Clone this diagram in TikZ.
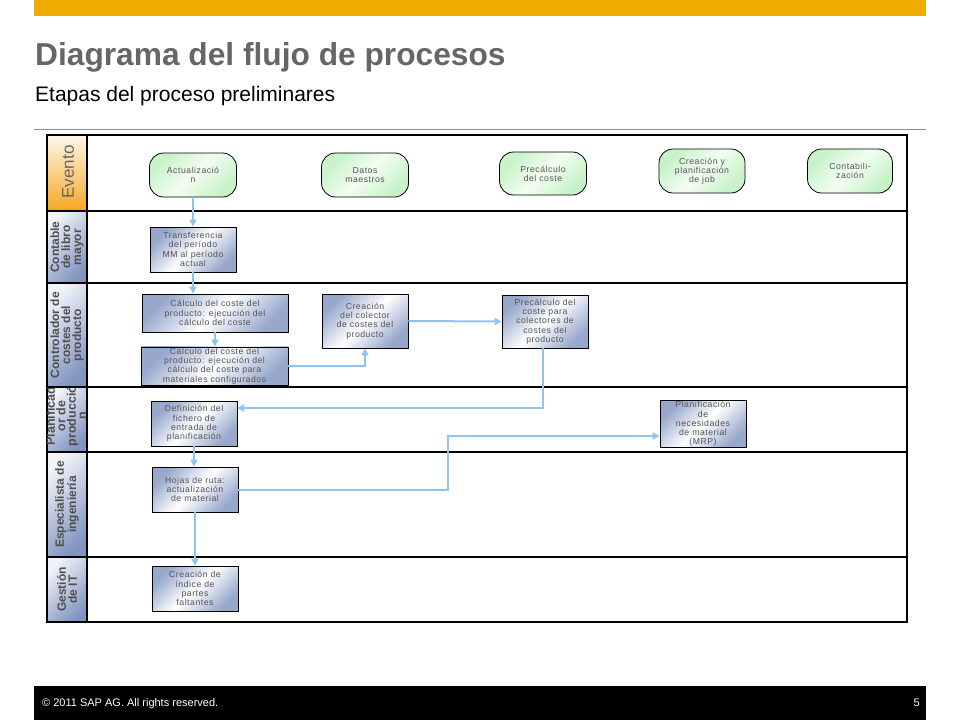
\documentclass[tikz,border=0pt]{standalone}
\usepackage{fontspec}
\setmainfont{Liberation Sans}
\newfontfamily\nodefont[LetterSpace=6]{Liberation Sans}
\usetikzlibrary{arrows.meta,calc}
\definecolor{sapgold}{HTML}{F0AB00}
\definecolor{titlegray}{HTML}{666666}
\definecolor{rulegray}{HTML}{8C8C8C}
\definecolor{txtgray}{HTML}{555555}
\definecolor{labgray}{HTML}{4F4F4F}
\definecolor{flowblue}{HTML}{8EC4F2}
\definecolor{boxdark}{HTML}{97A8CC}
\definecolor{lanedark}{HTML}{8295C0}
\definecolor{lanelight}{HTML}{F0F3F8}
\definecolor{pillgreen}{HTML}{C8F2C8}
\definecolor{pilllight}{HTML}{F2FDF2}
\definecolor{evtop}{HTML}{FFF8EA}
\definecolor{evmid}{HTML}{FBD27C}
\definecolor{evbot}{HTML}{F5A623}
\begin{document}
\begin{tikzpicture}[x=1pt,y=-1pt,
  pill/.style={draw=black, line width=0.8pt, rounded corners=14pt,
    top color=pillgreen, bottom color=pillgreen, middle color=pilllight, shading angle=45,
    font=\nodefont\fontsize{8.7}{9}\selectfont, text=txtgray, align=center, inner sep=1pt},
  proc/.style={draw=black, line width=0.8pt,
    top color=boxdark, bottom color=boxdark, middle color=white, shading angle=45,
    font=\nodefont\fontsize{8.7}{9.3}\selectfont, text=txtgray, align=center, inner sep=1pt},
  lane/.style={draw=black, line width=2.6pt},
  lanelab/.style={draw=black, line width=2.6pt, top color=lanelight, bottom color=lanedark, shading angle=45},
  lanetext/.style={rotate=90, font=\bfseries\fontsize{12}{11}\selectfont, text=labgray, align=center, inner sep=0pt},
  flow/.style={draw=flowblue, line width=2pt, -{Triangle[length=7pt,width=7pt]}}
]
\useasboundingbox (0,0) rectangle (960,720);
% header
\fill[sapgold] (34,0) rectangle (926,16);
\node[anchor=base west, font=\bfseries\fontsize{31.7}{32}\selectfont, text=titlegray, inner sep=0pt] (title) at (35,65) {Diagrama del flujo de procesos};
\node[anchor=base west, font=\fontsize{21}{21}\selectfont, inner sep=0pt] (sub) at (35,101) {Etapas del proceso preliminares};
\draw[rulegray, line width=1pt] (34,129) -- (926,129);
% lanes
\foreach \ya/\yb in {135/211, 211/283, 283/387, 387/452, 452/557, 557/622} {
  \draw[lane] (47,\ya) rectangle (907,\yb);
}
\draw[lane, top color=evtop, middle color=evmid, bottom color=evbot] (47,135) rectangle (87,211);
\foreach \ya/\yb in {211/283, 283/387, 387/452, 452/557, 557/622} {
  \draw[lanelab] (47,\ya) rectangle (87,\yb);
}
\node[rotate=90, font=\fontsize{17}{17}\selectfont, text=titlegray, inner sep=0pt] (lev) at (68,172) {Evento};
\node[lanetext] (lcon) at (67,247) {Contable\\de libro\\mayor};
\node[lanetext] (lctr) at (67,335) {Controlador de\\costes del\\producto};
\begin{scope}
\clip (47,388) rectangle (87,451);
\node[lanetext, font=\bfseries\fontsize{12.5}{10.5}\selectfont] (lpla) at (66,416) {Planificad\\or de\\producció\\n};
\end{scope}
\node[lanetext] (lesp) at (67,504.5) {Especialista de\\ingeniería};
\node[lanetext] (lges) at (67,589.5) {Gestión\\de IT};
% events
\node[pill, minimum width=87pt, minimum height=44pt] (act) at (193,175) {Actualizació\\n};
\node[pill, minimum width=87pt, minimum height=44pt] (dat) at (365,175) {Datos\\maestros};
\node[pill, minimum width=87pt, minimum height=43pt] (pre) at (543,173.5) {Precálculo\\del coste};
\node[pill, minimum width=86pt, minimum height=44pt] (cre) at (702,171) {Creación y\\planificación\\de job};
\node[pill, minimum width=85pt, minimum height=44pt] (con) at (850,171) {Contabili-\\zación};
% process boxes
\node[proc, minimum width=86pt, minimum height=45pt] (tra) at (193,249.5) {Transferencia\\del período\\MM al período\\actual};
\node[proc, minimum width=146pt, minimum height=38pt] (calc1) at (215,313) {Cálculo del coste del\\producto: ejecución del\\cálculo del coste};
\node[proc, minimum width=147pt, minimum height=36pt] (calc2) at (214.5,366) {Cálculo del coste del\\producto: ejecución del\\cálculo del coste para\\materiales configurados};
\node[proc, minimum width=86pt, minimum height=54pt] (col) at (365,321) {Creación\\del colector\\de costes del\\producto};
\node[proc, minimum width=86pt, minimum height=53pt] (pcb) at (545,321.5) {Precálculo del\\coste para\\colectores de\\costes del\\producto};
\node[proc, minimum width=86pt, minimum height=45pt] (def) at (194,423.5) {Definición del\\fichero de\\entrada de\\planificación};
\node[proc, minimum width=86pt, minimum height=46pt] (mrp) at (703,424) {Planificación\\de\\necesidades\\de material\\(MRP)};
\node[proc, minimum width=86pt, minimum height=45pt] (hoj) at (195,489.5) {Hojas de ruta:\\actualización\\de material};
\node[proc, minimum width=86pt, minimum height=45pt] (ind) at (195,588.5) {Creación de\\índice de\\partes\\faltantes};
% connectors
\coordinate (c6) at (543,408);
\coordinate (c8) at (448,436);
\draw[flow] (act.south) -- (tra.north);
\draw[flow] (tra.south) -- (tra.south |- calc1.north);
\draw[flow] (calc1.south) -- (calc1.south |- calc2.north);
\draw[flow] (calc2.east) -| (col.south);
\draw[flow] (col.east) -- (pcb.west);
\draw[flow] (c6 |- pcb.south) -- (c6) -- (c6 -| def.east);
\draw[flow] (def.south) -- (def.south |- hoj.north);
\draw[flow] (hoj.east) -| (c8) -- (c8 -| mrp.west);
\draw[flow] (hoj.south) -- (hoj.south |- ind.north);
% footer
\fill[black] (34,686) rectangle (926,720);
\node[anchor=base west, text=white, font=\fontsize{11}{11}\selectfont, inner sep=0pt] (copy) at (42,706) {© 2011 SAP AG. All rights reserved.};
\node[anchor=base east, text=white, font=\fontsize{11}{11}\selectfont, inner sep=0pt] (pg) at (920,706) {5};
\end{tikzpicture}
\end{document}
